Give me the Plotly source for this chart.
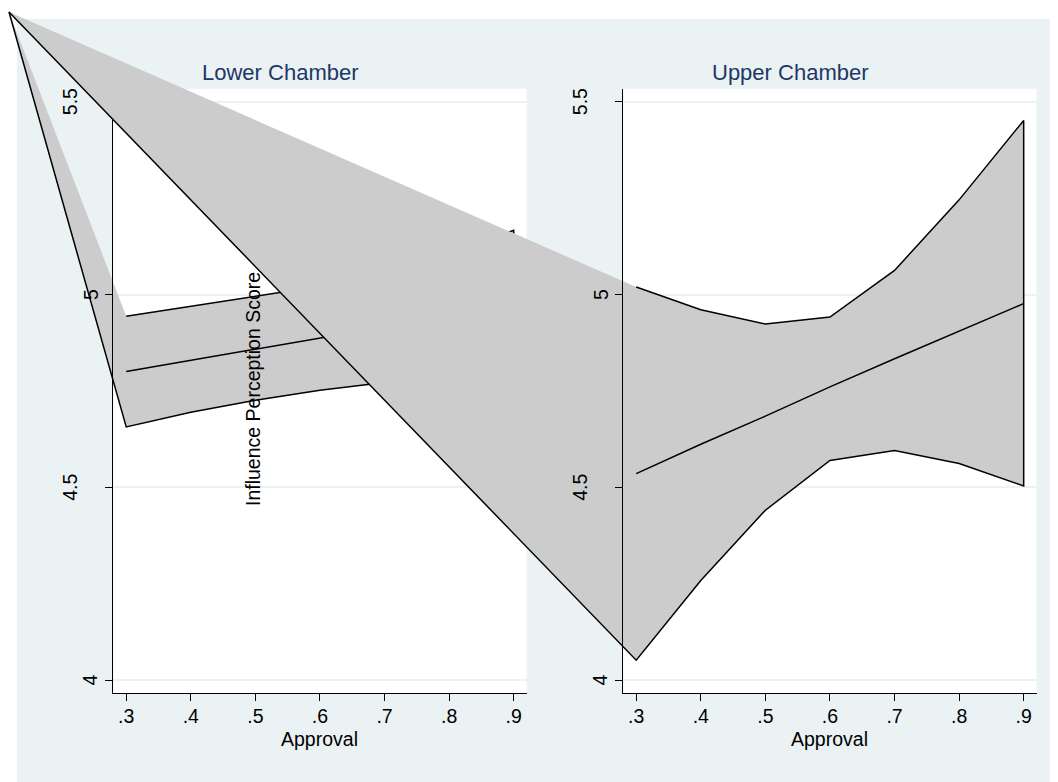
import plotly.graph_objects as go

W, H = 1058, 782

# ---------------- data ----------------
approval = [0.3, 0.4, 0.5, 0.6, 0.7, 0.8, 0.9]

lower_fit = [4.801, 4.830, 4.858, 4.887, 4.916, 4.945, 4.974]
lower_hi = [4.944, 4.970, 4.995, 5.022, 5.056, 5.105, 5.167]
lower_lo = [4.657, 4.695, 4.726, 4.752, 4.772, 4.785, 4.781]

upper_fit = [4.536, 4.612, 4.685, 4.761, 4.834, 4.905, 4.977]
upper_hi = [5.020, 4.961, 4.924, 4.942, 5.063, 5.246, 5.452]
upper_lo = [4.052, 4.259, 4.441, 4.570, 4.596, 4.562, 4.504]

x_tickvals = [0.3, 0.4, 0.5, 0.6, 0.7, 0.8, 0.9]
x_ticktext = [".3", ".4", ".5", ".6", ".7", ".8", ".9"]
y_tickvals = [4, 4.5, 5, 5.5]
y_ticktext = ["4", "4.5", "5", "5.5"]

panel_titles = ["Lower Chamber", "Upper Chamber"]
x_title = "Approval"
y_title = "Influence Perception Score"

# ---------------- styles / geometry ----------------
FONT = "Liberation Sans, Arial, Helvetica, sans-serif"
GRAY = "#CCCCCC"
BG = "#EAF2F3"
NAVY = "#1E3766"
LW = 1.5
FS = 19.5

# the page puts the figure 8 px in from the window's top-left corner
OFF = 8

# screen-pixel geometry (window coordinates)
panel_left_px = (113.3, 526.6)
panel_right_px = (623.3, 1036.6)
panel_y_px = (88.8, 693.0)       # top, bottom
canvas_origin_px = (17, 19)
glitch_px = (9, 12)              # stray vertex every band path runs back to
x_range = [0.28, 0.92]
y_range = [3.967, 5.534]
title_x_px = [280, 790]
title_y_px = 72.5
xtitle_y_px = 738.5
ytitle_px = (253, 389)
ylabel_offsets = [23, 43, 23, 43]


def fx(px):
    return (px - OFF) / W


def fy(py):
    return 1 - (py - OFF) / H


def xdom(px):
    return [fx(px[0]), fx(px[1])]


ydom = [fy(panel_y_px[1]), fy(panel_y_px[0])]


def extend(rng, dom):
    s = (rng[1] - rng[0]) / (dom[1] - dom[0])
    lo = rng[0] - dom[0] * s
    return [lo, lo + s]


def at(rng, frac):
    return rng[0] + frac * (rng[1] - rng[0])


fig = go.Figure()


def dummy(xa, ya):
    fig.add_trace(go.Scatter(x=[None], y=[None], xaxis=xa, yaxis=ya,
                             showlegend=False, hoverinfo="skip"))


def band(xa, ya, xr, yr, hi, lo, fit):
    gx = at(xr, fx(glitch_px[0]))
    gy = at(yr, fy(glitch_px[1]))
    fig.add_trace(go.Scatter(
        x=approval + approval[::-1] + [gx],
        y=hi + lo[::-1] + [gy],
        mode="lines", fill="toself", fillcolor=GRAY,
        line=dict(color="black", width=LW),
        xaxis=xa, yaxis=ya, showlegend=False, hoverinfo="skip"))
    fig.add_trace(go.Scatter(
        x=approval, y=fit, mode="lines",
        line=dict(color="black", width=LW),
        xaxis=xa, yaxis=ya, showlegend=False, hoverinfo="skip"))


for xa, ya in [("x", "y"), ("x2", "y2"), ("x4", "y4"), ("x6", "y6")]:
    dummy(xa, ya)

xr3 = extend(x_range, xdom(panel_left_px))
yr3 = extend(y_range, ydom)
xr5 = extend(x_range, xdom(panel_right_px))
yr5 = extend(y_range, ydom)

band("x3", "y3", xr3, yr3, lower_hi, lower_lo, lower_fit)
band("x5", "y5", xr5, yr5, upper_hi, upper_lo, upper_fit)

grid_x = dict(range=x_range, showgrid=False, showline=False, zeroline=False,
              ticks="", showticklabels=False, fixedrange=True)
grid_y = dict(range=y_range, domain=ydom, tickvals=y_tickvals, showgrid=True,
              gridcolor=BG, gridwidth=1.5, showline=False, zeroline=False,
              ticks="", showticklabels=False, fixedrange=True)
axis_x = dict(range=x_range, showgrid=False, zeroline=False, showline=True,
              linecolor="black", linewidth=1.3, ticks="outside", ticklen=7,
              tickwidth=1, tickcolor="black", tickvals=x_tickvals,
              ticktext=x_ticktext, ticklabelstandoff=-2,
              tickfont=dict(family=FONT, size=FS, color="black"),
              fixedrange=True)
axis_y = dict(range=y_range, domain=ydom, showgrid=False, zeroline=False,
              showline=True, linecolor="black", linewidth=1.3,
              ticks="outside", ticklen=7, tickwidth=1, tickcolor="black",
              tickvals=y_tickvals, showticklabels=False, fixedrange=True)
hidden = dict(visible=False, fixedrange=True)

fig.update_layout(
    width=W, height=H,
    margin=dict(l=0, r=0, t=0, b=0),
    paper_bgcolor="white",
    plot_bgcolor="rgba(0,0,0,0)",
    font=dict(family=FONT, size=FS, color="black"),
    showlegend=False,
    hovermode=False,
    xaxis=dict(domain=xdom(panel_left_px), anchor="y", **grid_x),
    yaxis=dict(anchor="x", **grid_y),
    xaxis2=dict(domain=xdom(panel_right_px), anchor="y2", **grid_x),
    yaxis2=dict(anchor="x2", **grid_y),
    xaxis3=dict(domain=[0, 1], range=xr3, anchor="y3", **hidden),
    yaxis3=dict(domain=[0, 1], range=yr3, anchor="x3", **hidden),
    xaxis4=dict(domain=xdom(panel_left_px), anchor="y4", **axis_x),
    yaxis4=dict(anchor="x4", **axis_y),
    xaxis5=dict(domain=[0, 1], range=xr5, anchor="y5", **hidden),
    yaxis5=dict(domain=[0, 1], range=yr5, anchor="x5", **hidden),
    xaxis6=dict(domain=xdom(panel_right_px), anchor="y6", **axis_x),
    yaxis6=dict(anchor="x6", **axis_y),
)

# backgrounds
shapes = [dict(type="rect", xref="paper", yref="paper", layer="below",
               x0=fx(canvas_origin_px[0]), x1=1, y0=0,
               y1=fy(canvas_origin_px[1]),
               fillcolor=BG, line=dict(width=0))]
for px in (panel_left_px, panel_right_px):
    d = xdom(px)
    shapes.append(dict(type="rect", xref="paper", yref="paper", layer="below",
                       x0=d[0], x1=d[1], y0=ydom[0], y1=ydom[1],
                       fillcolor="white", line=dict(width=0)))
fig.update_layout(shapes=shapes)

ann = []
for i, (px, yref) in enumerate([(panel_left_px, "y4"), (panel_right_px, "y6")]):
    ann.append(dict(text=panel_titles[i], x=fx(title_x_px[i]), y=fy(title_y_px),
                    xref="paper", yref="paper", showarrow=False,
                    xanchor="center", yanchor="middle",
                    font=dict(family=FONT, size=22, color=NAVY)))
    ann.append(dict(text=x_title, x=fx((px[0] + px[1]) / 2), y=fy(xtitle_y_px),
                    xref="paper", yref="paper", showarrow=False,
                    xanchor="center", yanchor="middle",
                    font=dict(family=FONT, size=FS, color="black")))
    for v, t, off in zip(y_tickvals, y_ticktext, ylabel_offsets):
        ann.append(dict(text=t, x=fx(px[0] - off), y=v, xref="paper", yref=yref,
                        showarrow=False, textangle=-90,
                        xanchor="center", yanchor="middle",
                        font=dict(family=FONT, size=FS, color="black")))
ann.append(dict(text=y_title, x=fx(ytitle_px[0]), y=fy(ytitle_px[1]),
                xref="paper", yref="paper", showarrow=False, textangle=-90,
                xanchor="center", yanchor="middle",
                font=dict(family=FONT, size=FS, color="black")))
fig.update_layout(annotations=ann)

fig.write_html("out.html")
